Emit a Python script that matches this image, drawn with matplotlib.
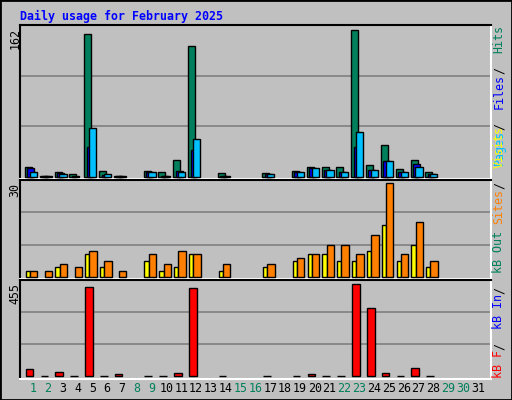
import matplotlib
matplotlib.use("Agg")
import matplotlib.pyplot as plt
from matplotlib.patches import Rectangle

days = list(range(1, 32))
hits  = [11,1,5,3,152,6,1,0,7,5,18,140,0,4,0,0,4,0,6,11,11,11,157,13,34,9,18,5,0,0,0]
files = [10,1,4,1,32,2,1,0,5,1,6,29,0,1,0,0,3,0,5,10,8,5,32,8,17,5,14,3,0,0,0]
pages = [5,1,3,0,52,3,1,0,5,1,5,41,0,1,0,0,3,0,5,10,8,5,48,8,17,5,11,3,0,0,0]
sites = [2,2,4,3,8,5,2,0,7,4,8,7,0,4,0,0,4,0,6,7,10,10,7,13,29,7,17,5,0,0,0]
visits= [2,0,3,0,7,3,0,0,5,2,3,7,0,2,0,0,3,0,5,7,7,5,5,8,16,5,10,3,0,0,0]
kbf   = [35,1,21,1,423,1,11,0,1,1,16,418,0,1,0,0,1,0,1,11,1,1,437,322,16,1,40,1,0,0,0]
weekend = [1,2,8,9,15,16,22,23,29,30]
max_hits, max_sites, max_kb = 162, 30, 455

W, H = 512, 400
fig = plt.figure(figsize=(W/100, H/100), dpi=100)
fig.patch.set_facecolor('#C0C0C0')
fig.patches.append(Rectangle((0, 0), 1, 1, transform=fig.transFigure, fill=False,
                             edgecolor='black', lw=2))
mono = 'DejaVu Sans Mono'

def P(x, y):
    return x / W, 1 - y / H

def mkax(y0, y1):
    x0, x1 = 20, 491
    ax = fig.add_axes([x0/W, 1-y1/H, (x1-x0)/W, (y1-y0)/H])
    ax.set_facecolor('#C0C0C0')
    ax.set_xlim(0.123, 31.88)
    ax.set_xticks([]); ax.set_yticks([])
    for s in ['left', 'top']:
        ax.spines[s].set_color('black')
    for s in ['right', 'bottom']:
        ax.spines[s].set_color('white')
    for s in ax.spines.values():
        s.set_linewidth(1.5)
    return ax

def bars(ax, vals, off, w, color):
    xs = [d + off + w/2 for d, v in zip(days, vals) if v > 0]
    hs = [v for v in vals if v > 0]
    ax.bar(xs, hs, width=w, color=color, edgecolor='black', linewidth=1, zorder=3)

ax1 = mkax(25, 179)
ax1.set_ylim(-2, max_hits)
for g in (54, 108):
    ax1.axhline(g, color='#808080', lw=1.2, zorder=1)
bars(ax1, hits, -0.54, 0.47, '#00805C')
bars(ax1, files, -0.38, 0.47, '#0000FF')
bars(ax1, pages, -0.22, 0.49, '#00C0FF')

ax2 = mkax(180, 279)
ax2.set_ylim(-0.6, max_sites)
for g in (10, 20):
    ax2.axhline(g, color='#808080', lw=1.2, zorder=1)
bars(ax2, visits, -0.49, 0.29, '#FFFF00')
bars(ax2, sites, -0.2, 0.5, '#FF8000')

ax3 = mkax(280, 379)
ax3.set_ylim(-14, max_kb)
for g in (151.7, 303.3):
    ax3.axhline(g, color='#808080', lw=1.2, zorder=1)
bars(ax3, kbf, -0.49, 0.52, '#FF0000')

fs = 8.4
fig.text(*P(20, 16), 'Daily usage for February 2025', family=mono, weight='bold',
         color='#0000FF', fontsize=fs, va='center', ha='left')
for y, lab in [(28, str(max_hits)), (183, str(max_sites)), (283, str(max_kb))]:
    fig.text(*P(15, y), lab, family=mono, fontsize=fs, rotation=90,
             ha='center', va='top', color='black')

for d in days:
    x = 33 + (d - 1) * 14.83
    fig.text(*P(x, 389), str(d), family=mono, fontsize=fs, ha='center', va='center',
             color='#00805C' if d in weekend else 'black')

CW = 7.0
def vlabel(parts, ybottom):
    y = ybottom
    for txt, col in parts:
        if txt.strip():
            fig.text(*P(499, y), txt.strip(), family=mono, fontsize=fs, rotation=90,
                     rotation_mode='anchor', ha='left', va='center', color=col)
        y -= len(txt) * CW

vlabel([('Pages', '#00C0FF'), (' / ', 'black'), ('Files', '#0000FF'),
        (' / ', 'black'), ('Hits', '#00805C')], 165)
vlabel([('kB F', '#FF0000'), (' / ', 'black'), ('kB In', '#0000FF'),
        (' / ', 'black'), ('kB Out', '#00805C'), (' ', 'black'), ('Sites', '#FF8000'),
        (' / ', 'black'), ('Visits', '#FFFF00')], 378)

fig.savefig('out.png', dpi=100, facecolor=fig.get_facecolor())
